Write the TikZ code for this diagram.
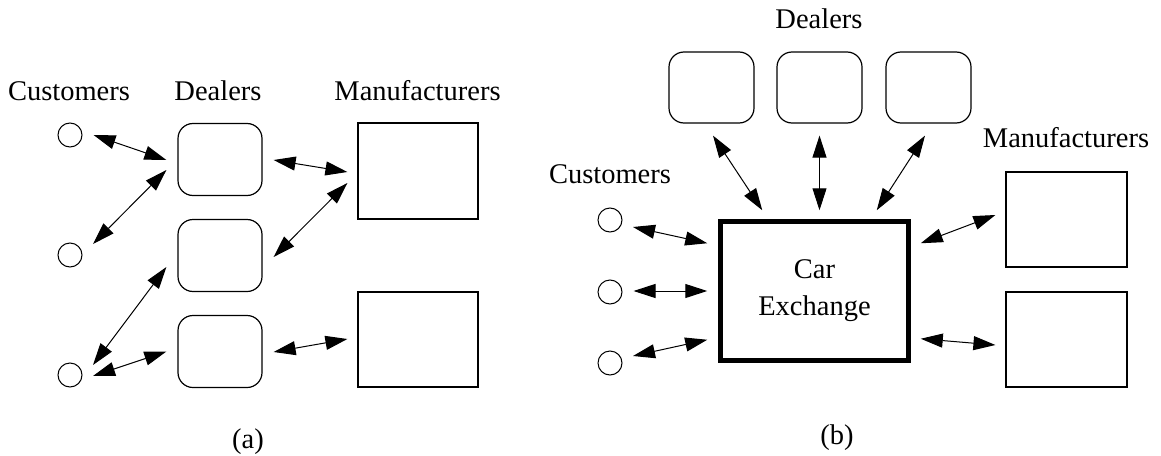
\documentclass[tikz,border=0pt]{standalone}
\usepackage{fontspec}
\setmainfont{Liberation Serif}
\usetikzlibrary{arrows.meta,calc}
\begin{document}
\begin{tikzpicture}[x=1pt,y=-1pt,
  every node/.style={font=\fontsize{28.5}{37}\selectfont},
  cust/.style={draw,circle,minimum size=24pt,inner sep=0pt,line width=1pt},
  dealer/.style={draw,rounded corners=15pt,minimum width=84pt,minimum height=72pt,inner sep=0pt,line width=1.2pt},
  manuf/.style={draw,minimum width=120pt,minimum height=95pt,inner sep=0pt,line width=1.2pt},
  exch/.style={draw,line width=4.5pt,minimum width=188pt,minimum height=139pt,inner sep=0pt,align=center},
  lab/.style={anchor=base,inner sep=0pt},
  link/.style={{Triangle[length=22pt,width=14pt]}-{Triangle[length=22pt,width=14pt]},line width=1pt}
]
\useasboundingbox (0,0) rectangle (1161,455);

% ---------- (a) ----------
\node[lab] (la1) at (69,100) {Customers};
\node[lab] (la2) at (218,100) {Dealers};
\node[lab] (la3) at (417.5,100) {Manufacturers};

\node[cust] (c1) at (70,135) {};
\node[cust] (c2) at (70,255) {};
\node[cust] (c3) at (70,375) {};

\node[dealer] (d1) at (220,159.5) {};
\node[dealer] (d2) at (220,255.5) {};
\node[dealer] (d3) at (220,351.5) {};

\node[manuf,minimum height=96pt] (m1) at (418,171) {};
\node[manuf] (m2) at (418,339.5) {};

\draw[link] ([shift={(11,0)}]c1.east) -- ([shift={(-11,0.5)}]d1.west);
\draw[link] ([shift={(23,-11)}]c2.center) -- ([shift={(-11,10.5)}]d1.west);
\draw[link] ([shift={(23,-10)}]c3.center) -- ([shift={(-11,11.5)}]d2.west);
\draw[link] ([shift={(23,1)}]c3.center) -- ([shift={(-11,0)}]d3.west);
\draw[link] ([shift={(11,0.5)}]d1.east) -- ([shift={(-10,1)}]m1.west);
\draw[link] ([shift={(11,1.5)}]d2.east) -- ([shift={(-10,12)}]m1.west);
\draw[link] ([shift={(11,0.5)}]d3.east) -- ([shift={(-10,-0.5)}]m2.west);

\node[lab] (capa) at (248,448) {(a)};

% ---------- (b) ----------
\node[lab] (lb2) at (819,28) {Dealers};
\node[lab] (lb1) at (610,183) {Customers};
\node[lab] (lb3) at (1066,147) {Manufacturers};

\node[dealer,minimum width=85pt,minimum height=71pt] (e1) at (711.5,87.5) {};
\node[dealer,minimum width=85pt,minimum height=71pt] (e2) at (819.5,87.5) {};
\node[dealer,minimum width=85pt,minimum height=71pt] (e3) at (928.5,87.5) {};

\node[cust] (k1) at (610,220) {};
\node[cust] (k2) at (610,292) {};
\node[cust] (k3) at (610,363) {};

\node[exch] (X) at (814.5,291) {Car\\Exchange};

\node[manuf,minimum width=121pt] (n1) at (1066.5,219.5) {};
\node[manuf,minimum width=121pt] (n2) at (1066.5,339.5) {};

\draw[link] ([shift={(23,7)}]k1.center) -- ([shift={(-11,24)}]X.north west);
\draw[link] ([shift={(11,-1)}]k2.east) -- ([shift={(-11,0)}]X.west);
\draw[link] ([shift={(23,-7)}]k3.center) -- ([shift={(-11,-23)}]X.south west);

\draw[link] ([shift={(1.5,12)}]e1.south) -- ([shift={(44,-9)}]X.north west);
\draw[link] ([shift={(0,12)}]e2.south) -- ($(e2.south |- X.north)+(0,-9)$);
\draw[link] ([shift={(-3.5,12)}]e3.south) -- ([shift={(-34,-9)}]X.north east);

\draw[link] ([shift={(10,24)}]X.north east) -- ([shift={(-10,-4.5)}]n1.west);
\draw[link] ([shift={(10,-24)}]X.south east) -- ([shift={(-10,5.5)}]n2.west);

\node[lab] (capb) at (837,444) {(b)};
\end{tikzpicture}
\end{document}
